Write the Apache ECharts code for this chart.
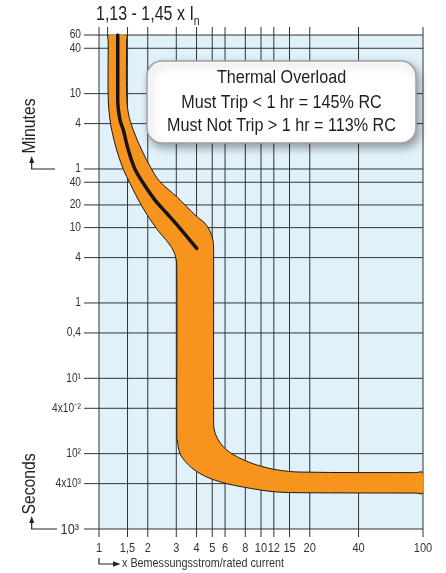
<!DOCTYPE html>
<html><head><meta charset="utf-8">
<script src="https://cdn.jsdelivr.net/npm/echarts@6/dist/echarts.min.js"></script>
<style>html,body{margin:0;padding:0;background:#fff}#c{width:446px;height:573px}</style>
</head><body><div id="c"></div>
<script>
// ---- axis ticks / labels ----
const X_TICKS = [1, 1.5, 2, 3, 4, 5, 6, 8, 10, 12, 15, 20, 40, 100];
const X_LABELS = ['1', '1,5', '2', '3', '4', '5', '6', '8', '10', '12', '15', '20', '40', '100'];
// time in seconds (minutes section on top, seconds below)
const Y_TICKS = [3600, 2400, 600, 240, 60, 40, 20, 10, 4, 1, 0.4, 0.1, 0.04, 0.01, 0.004, 0.001];
const Y_LABELS = ['60', '40', '10', '4', '1', '40', '20', '10', '4', '1', '0,4', '10¹', '4x10⁻²', '10²', '4x10³', '10³'];
const TITLE_MARKS = [1.13];

// ---- tripping band (x = multiple of rated current, y = seconds) ----
const LOWER_EDGE = [
  [1.14, 3600], [1.14, 3000], [1.14, 494], [1.17, 268], [1.198, 197], [1.286, 107],
  [1.413, 59.4], [1.554, 38.7], [1.835, 19.4], [2.27, 9.66], [2.74, 5.88], [2.95, 4.3],
  [3.02, 3.0], [3.02, 0.0166], [3.04, 0.0152], [3.16, 0.0101], [3.48, 0.0075],
  [4.01, 0.0058], [4.84, 0.0047], [6.14, 0.0040], [7.78, 0.0036], [9.86, 0.0033],
  [12.5, 0.0031], [17.4, 0.00303], [90, 0.003], [100, 0.003]
];
const UPPER_EDGE = [
  [100, 0.0056], [90, 0.0056], [17.4, 0.0057], [12.5, 0.0061], [9.4, 0.0071], [7.42, 0.0087],
  [6.14, 0.0112], [5.45, 0.0152], [5.15, 0.0206], [5.1, 0.028], [5.1, 4.5], [5.08, 6.2],
  [4.91, 8.4], [4.51, 11.4], [4.01, 14.0], [3.02, 25.7], [2.38, 40.6], [2.115, 59.4],
  [1.835, 107], [1.628, 197], [1.517, 332], [1.48, 600], [1.48, 3000], [1.48, 3600]
];
const CENTER_LINE = [
  [1.305, 3600], [1.305, 3000], [1.305, 494], [1.348, 268], [1.413, 197], [1.517, 107],
  [1.668, 59.4], [1.877, 38.7], [2.216, 23.2], [2.618, 15.5], [3.162, 9.8], [4.01, 5.3]
];

const XMIN = 1, XMAX = 100, YMIN = 0.001, YMAX = 3600;
const FONT = "'Liberation Sans',Arial,Helvetica,sans-serif";
const NARROW = 0.85;
const GRID_COLOR = '#333';
const TEXT_COLOR = '#333';

const BAND_POLY = LOWER_EDGE.concat(UPPER_EDGE);

const chart = echarts.init(document.getElementById('c'), null, { renderer: 'canvas' });

function renderVGrid(params, api) {
  const i = params.dataIndex;
  const v = X_TICKS[i];
  const b = api.coord([v, YMIN]), t = api.coord([v, YMAX]);
  return {
    type: 'group', children: [
      { type: 'line', shape: { x1: b[0], y1: b[1] + 8, x2: t[0], y2: t[1] - 8 }, style: { stroke: GRID_COLOR, lineWidth: 1 } },
      { type: 'text', x: b[0], y: b[1] + 13, scaleX: NARROW, style: { text: X_LABELS[i], fill: TEXT_COLOR, fontSize: 13, fontFamily: FONT, align: 'center', verticalAlign: 'top' } }
    ]
  };
}
function renderHGrid(params, api) {
  const i = params.dataIndex;
  const v = Y_TICKS[i];
  const l = api.coord([XMIN, v]), r = api.coord([XMAX, v]);
  const big = i === Y_TICKS.length - 1;
  return {
    type: 'group', children: [
      { type: 'line', shape: { x1: l[0] - 15, y1: l[1], x2: r[0], y2: r[1] }, style: { stroke: GRID_COLOR, lineWidth: 1 } },
      { type: 'text', x: l[0] - (big ? 20 : 18), y: l[1] + (big ? 1 : 0), scaleX: NARROW, style: { text: Y_LABELS[i], fill: TEXT_COLOR, fontSize: big ? 15 : 12, fontFamily: FONT, align: 'right', verticalAlign: 'middle' } }
    ]
  };
}
function renderMarks(params, api) {
  const v = TITLE_MARKS[params.dataIndex];
  const t = api.coord([v, YMAX]);
  return { type: 'line', shape: { x1: t[0], y1: t[1] - 8, x2: t[0], y2: t[1] }, style: { stroke: GRID_COLOR, lineWidth: 1 } };
}
function renderBand(params, api) {
  if (params.dataIndex !== 0) return null;
  const pts = BAND_POLY.map(p => api.coord(p));
  return {
    type: 'polygon', shape: { points: pts, smooth: 0.35 },
    style: { fill: '#f7941d', stroke: '#1a1a1a', lineWidth: 1 }
  };
}

const hiddenAxis = {
  axisLine: { show: false }, axisTick: { show: false }, axisLabel: { show: false }, splitLine: { show: false }
};

const BOX_X = 147, BOX_Y = 61, BOX_CX = 147 + 134.5;

chart.setOption({
  animation: false,
  grid: { left: 99, top: 35, width: 324, height: 494, show: true, backgroundColor: '#e0f1fa', borderWidth: 0 },
  xAxis: Object.assign({ type: 'log', logBase: 10, min: XMIN, max: XMAX }, hiddenAxis),
  yAxis: Object.assign({ type: 'log', logBase: 10, min: YMIN, max: YMAX }, hiddenAxis),
  series: [
    { type: 'custom', name: 'vgrid', z: 1, clip: false, data: X_TICKS.map(v => [v, YMIN]), renderItem: renderVGrid, silent: true },
    { type: 'custom', name: 'hgrid', z: 1, clip: false, data: Y_TICKS.map(v => [XMIN, v]), renderItem: renderHGrid, silent: true },
    { type: 'custom', name: 'marks', z: 1, clip: false, data: TITLE_MARKS.map(v => [v, YMAX]), renderItem: renderMarks, silent: true },
    { type: 'custom', name: 'band', z: 2, clip: true, data: BAND_POLY, renderItem: renderBand, silent: true },
    {
      type: 'line', name: 'center', z: 3, data: CENTER_LINE, smooth: 0.3, showSymbol: false, symbol: 'none',
      lineStyle: { color: '#151515', width: 3.5, cap: 'round' }, silent: true
    }
  ],
  graphic: [
    { type: 'text', x: 96, y: 4, z: 10, scaleX: 0.8, style: {
      text: '{a|1,13 - 1,45 x I}{b|n}', align: 'left', verticalAlign: 'top',
      rich: {
        a: { fontSize: 20, fontFamily: FONT, fill: '#222', color: '#222', lineHeight: 24, verticalAlign: 'top' },
        b: { fontSize: 13, fontFamily: FONT, fill: '#222', color: '#222', lineHeight: 13, verticalAlign: 'bottom' }
      }
    } },
    // note box
    { type: 'rect', z: 100, x: BOX_X, y: BOX_Y, shape: { x: 0, y: 0, width: 269, height: 82, r: 15 },
      style: { fill: '#fff', stroke: '#a0a0a0', lineWidth: 1.5, shadowBlur: 8, shadowOffsetX: 3, shadowOffsetY: 4, shadowColor: 'rgba(0,0,0,0.35)' } },
    { type: 'text', z: 101, x: BOX_CX, y: BOX_Y + 17, scaleX: NARROW, style: { text: 'Thermal Overload', fontSize: 19, fontFamily: FONT, fill: '#1e1e1e', align: 'center', verticalAlign: 'middle' } },
    { type: 'text', z: 101, x: BOX_CX, y: BOX_Y + 41.5, scaleX: NARROW, style: { text: 'Must Trip < 1 hr = 145% RC', fontSize: 19, fontFamily: FONT, fill: '#1e1e1e', align: 'center', verticalAlign: 'middle' } },
    { type: 'text', z: 101, x: BOX_CX, y: BOX_Y + 64.5, scaleX: NARROW, style: { text: 'Must Not Trip > 1 hr = 113% RC', fontSize: 19, fontFamily: FONT, fill: '#1e1e1e', align: 'center', verticalAlign: 'middle' } },
    // Minutes label + arrow
    { type: 'text', x: 30, y: 126, rotation: Math.PI / 2, scaleX: NARROW, z: 10, style: { text: 'Minutes', fontSize: 18.5, fontFamily: FONT, fill: '#222', align: 'center', verticalAlign: 'middle' } },
    { type: 'polyline', z: 10, shape: { points: [[55, 169], [31.7, 169], [31.7, 162]] }, style: { stroke: '#222', lineWidth: 1.2, fill: null } },
    { type: 'polygon', z: 10, shape: { points: [[31.7, 156], [29.2, 163], [34.2, 163]] }, style: { fill: '#222' } },
    // Seconds label + arrow
    { type: 'text', x: 30, y: 484, rotation: Math.PI / 2, scaleX: NARROW, z: 10, style: { text: 'Seconds', fontSize: 18.5, fontFamily: FONT, fill: '#222', align: 'center', verticalAlign: 'middle' } },
    { type: 'polyline', z: 10, shape: { points: [[57, 529], [31.7, 529], [31.7, 522]] }, style: { stroke: '#222', lineWidth: 1.2, fill: null } },
    { type: 'polygon', z: 10, shape: { points: [[31.7, 516], [29.2, 523], [34.2, 523]] }, style: { fill: '#222' } },
    // x caption + arrow
    { type: 'polyline', z: 10, shape: { points: [[99, 558], [99, 564], [114, 564]] }, style: { stroke: '#222', lineWidth: 1.2, fill: null } },
    { type: 'polygon', z: 10, shape: { points: [[120.5, 564], [113, 561.3], [113, 566.7]] }, style: { fill: '#222' } },
    { type: 'text', x: 122, y: 564, z: 10, scaleX: 0.9, style: { text: 'x Bemessungsstrom/rated current', fontSize: 12, fontFamily: FONT, fill: TEXT_COLOR, align: 'left', verticalAlign: 'middle' } }
  ]
});
</script>
</body></html>
